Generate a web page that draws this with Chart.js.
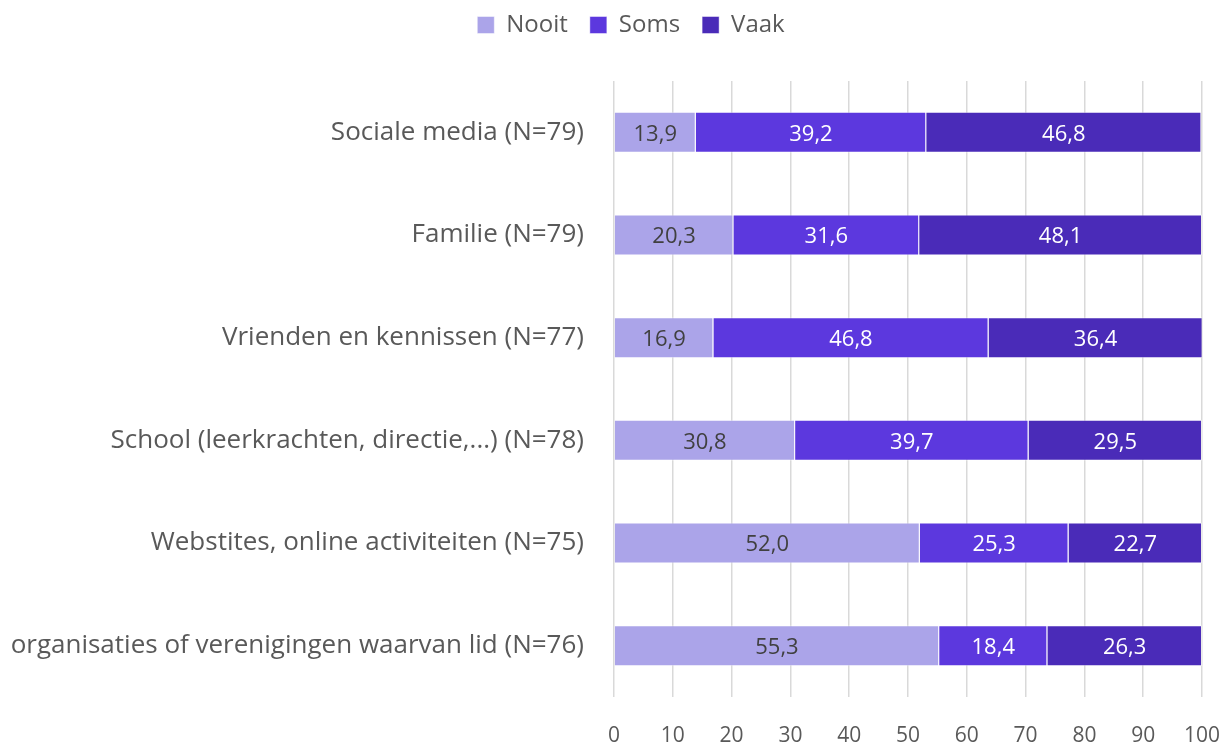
<!DOCTYPE html>
<html>
<head>
<meta charset="utf-8">
<script src="https://cdn.jsdelivr.net/npm/chart.js"></script>
<style>
  body { margin: 0; background: #fff; }
  #wrap { width: 1226px; height: 748px; }
</style>
</head>
<body>
<div id="wrap"><canvas id="myChart"></canvas></div>
<script>
var categories = [
    'Sociale media (N=79)',
    'Familie (N=79)',
    'Vrienden en kennissen (N=77)',
    'School (leerkrachten, directie,...) (N=78)',
    'Webstites, online activiteiten (N=75)',
    'organisaties of verenigingen waarvan lid (N=76)'
];
var nooit = [13.9, 20.3, 16.9, 30.8, 52.0, 55.3];
var soms = [39.2, 31.6, 46.8, 39.7, 25.3, 18.4];
var vaak = [46.8, 48.1, 36.4, 29.5, 22.7, 26.3];

var fontFamily = '"Open Sans", Lato, sans-serif';

// draws the value labels in the middle of each bar segment
var barLabels = {
    id: 'barLabels',
    beforeInit(chart) {
        var legend = chart.legend;
        // extra room under the legend
        var fit = legend.fit;
        legend.fit = function () {
            fit.call(this);
            this.height += 34;
        };
        // legend sits a bit right of the page centre
        var draw = legend.draw;
        legend.draw = function () {
            var c = this.ctx;
            c.save();
            c.translate(30, 0);
            draw.call(this);
            c.restore();
        };
    },
    afterDatasetsDraw(chart) {
        var ctx = chart.ctx;
        ctx.save();
        ctx.font = '22px ' + fontFamily;
        ctx.textAlign = 'center';
        ctx.textBaseline = 'middle';
        chart.data.datasets.forEach(function (ds, i) {
            var meta = chart.getDatasetMeta(i);
            ctx.fillStyle = i == 0 ? '#404040' : '#ffffff';
            meta.data.forEach(function (bar, j) {
                var x = (bar.x + bar.base) / 2;
                var txt = ds.data[j].toFixed(1).replace('.', ',');
                ctx.fillText(txt, x, bar.y + 2);
            });
        });
        ctx.restore();
    }
};

var ctx = document.getElementById('myChart').getContext('2d');
var myChart = new Chart(ctx, {
    type: 'bar',
    data: {
        labels: categories,
        datasets: [
            { label: 'Nooit', data: nooit, backgroundColor: '#aba4e9' },
            { label: 'Soms', data: soms, backgroundColor: '#5c38de' },
            { label: 'Vaak', data: vaak, backgroundColor: '#4a2bb8' }
        ]
    },
    options: {
        indexAxis: 'y',
        responsive: true,
        maintainAspectRatio: false,
        animation: false,
        layout: { padding: { top: -9, right: 24, left: 0, bottom: 0 } },
        datasets: {
            bar: {
                categoryPercentage: 0.4,
                barPercentage: 1.0,
                borderWidth: 1,
                borderColor: 'rgba(255,255,255,0.45)'
            }
        },
        plugins: {
            legend: {
                position: 'top',
                labels: {
                    font: { size: 24, family: fontFamily },
                    color: '#595959',
                    boxWidth: 17,
                    boxHeight: 17,
                    padding: 22
                }
            },
            tooltip: { enabled: false }
        },
        scales: {
            x: {
                stacked: true,
                min: 0,
                max: 100,
                ticks: {
                    stepSize: 10,
                    font: { size: 21, family: fontFamily },
                    color: '#595959',
                    padding: 26
                },
                grid: { color: '#d9d9d9', lineWidth: 1.5, drawTicks: false },
                border: { display: false },
                afterFit(scale) {
                    scale.height = 51;
                    scale.paddingRight = 0;
                    scale.paddingLeft = 0;
                }
            },
            y: {
                stacked: true,
                ticks: {
                    font: { size: 26, family: fontFamily },
                    color: '#595959',
                    padding: 22
                },
                grid: { display: false },
                border: { display: false },
                afterFit(scale) { scale.width = 614; }
            }
        }
    },
    plugins: [barLabels]
});
</script>
</body>
</html>
